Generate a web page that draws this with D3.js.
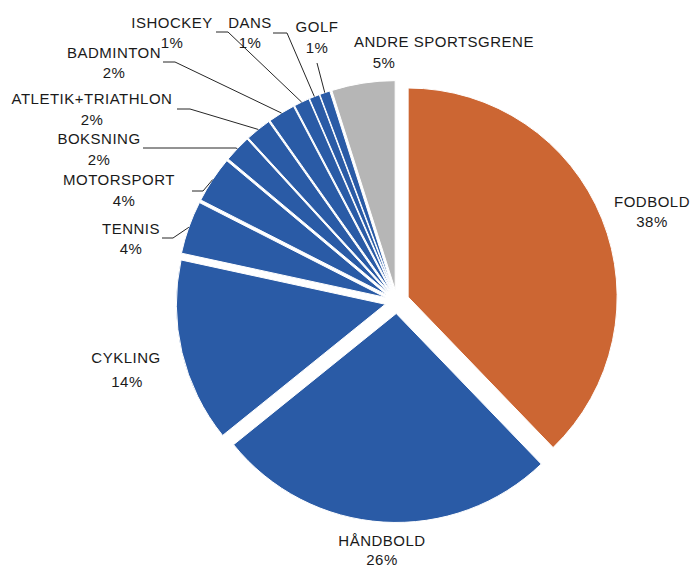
<!DOCTYPE html>
<html>
<head>
<meta charset="utf-8">
<script src="https://cdn.jsdelivr.net/npm/d3@7"></script>
<style>
  body { margin: 0; background: #fff; }
  text { font-family: "Liberation Sans", Arial, sans-serif; font-size: 15px; letter-spacing: 0.5px; fill: #1a1a1a; }
</style>
</head>
<body>
<script>
var w = 694;
var h = 569;

// data (share of total)
var sports = ["FODBOLD", "HÅNDBOLD", "CYKLING", "TENNIS", "MOTORSPORT", "BOKSNING",
  "ATLETIK+TRIATHLON", "BADMINTON", "ISHOCKEY", "DANS", "GOLF", "ANDRE SPORTSGRENE"];
var shares = [37.8, 26.4, 14.2, 4.1, 3.6, 2.1, 2.0, 2.1, 1.2, 0.8, 0.8, 4.9];

// layout: centre, radius, explode distance
var cx = 397, cy = 301.5, rad = 209, explode = 12;

// label placement: [x centre, baseline of name, gap to % line, % x shift]
var labelPos = [
  [652, 207, 19.5, 0],
  [382, 546, 19, 0],
  [126, 363, 24, 1],
  [131, 234, 20, 0],
  [119, 185, 21, 5],
  [99, 144, 21, 0],
  [92, 104, 21, 0],
  [114, 58, 20, 0],
  [172, 28, 20, 0],
  [250, 28, 20, 0],
  [317, 32, 20.5, 0],
  [444, 47, 20.5, -60]
];
// leader lines: [start x, start y, elbow x] (null = no leader)
var leaders = [null, null, null,
  [162, 238, 173],
  [192, 191, 203],
  [143, 148, 236],
  [177, 109, 190],
  [163, 62, 175],
  [216, 32, 228],
  [273, 33, 287],
  [317, 63, 317],
  null];

function sliceColor(i) {
  if (i === 0) return "#cc6633";
  if (i === sports.length - 1) return "#b6b6b6";
  return "#2a5ba6";
}

var data = sports.map(function (s, i) { return { name: s, value: shares[i], i: i }; });
var total = d3.sum(shares);
var pct = d3.format(".0%");

var svg = d3.select("body").append("svg")
  .attr("width", w)
  .attr("height", h);

var pie = d3.pie().sort(null).value(function (d) { return d.value; });
var arc = d3.arc().innerRadius(0).outerRadius(rad);
var arcs = pie(data);

function dir(a) { return [Math.sin(a), -Math.cos(a)]; }

var g = svg.append("g").attr("transform", "translate(" + cx + "," + cy + ")");

g.selectAll("path")
  .data(arcs)
  .join("path")
  .attr("d", arc)
  .attr("fill", function (d) { return sliceColor(d.data.i); })
  .attr("stroke", "#fff")
  .attr("stroke-width", 1)
  .attr("transform", function (d) {
    var v = dir((d.startAngle + d.endAngle) / 2);
    return "translate(" + v[0] * explode + "," + v[1] * explode + ")";
  });

// leader lines
svg.selectAll("polyline")
  .data(arcs.filter(function (d) { return leaders[d.data.i]; }))
  .join("polyline")
  .attr("fill", "none")
  .attr("stroke", "#262626")
  .attr("stroke-width", 1)
  .attr("points", function (d) {
    var l = leaders[d.data.i];
    var v = dir((d.startAngle + d.endAngle) / 2);
    var ex = cx + v[0] * (rad + explode), ey = cy + v[1] * (rad + explode);
    return [[l[0], l[1]], [l[2], l[1]], [ex, ey]].join(" ");
  });

// labels
var lab = svg.selectAll("g.label")
  .data(arcs)
  .join("g")
  .attr("class", "label");

lab.append("text")
  .attr("text-anchor", "middle")
  .attr("x", function (d) { return labelPos[d.data.i][0]; })
  .attr("y", function (d) { return labelPos[d.data.i][1]; })
  .text(function (d) { return d.data.name; });

lab.append("text")
  .attr("text-anchor", "middle")
  .attr("x", function (d) { return labelPos[d.data.i][0] + labelPos[d.data.i][3]; })
  .attr("y", function (d) { return labelPos[d.data.i][1] + labelPos[d.data.i][2]; })
  .text(function (d) { return pct(d.data.value / total); });
</script>
</body>
</html>
